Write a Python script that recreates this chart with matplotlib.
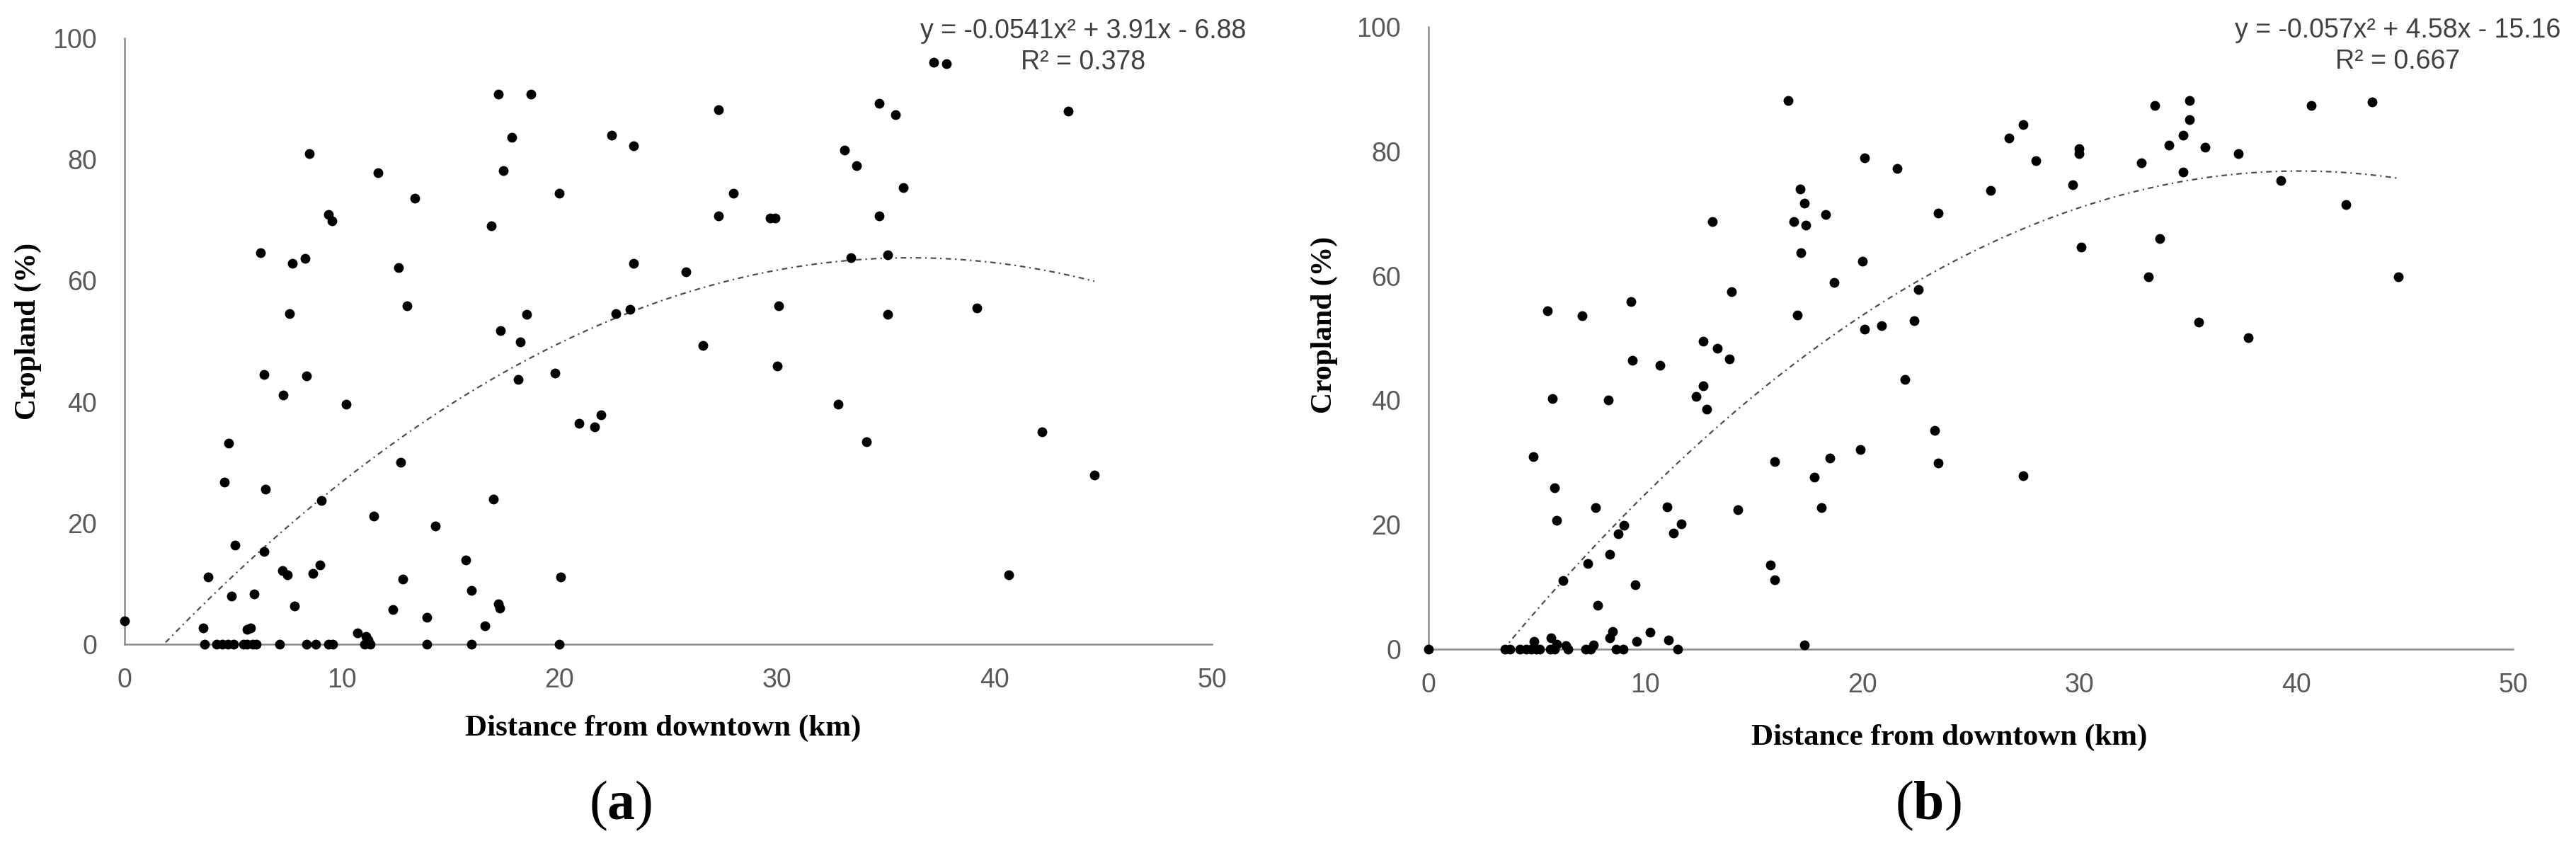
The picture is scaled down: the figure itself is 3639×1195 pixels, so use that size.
import numpy as np
import matplotlib
matplotlib.use("Agg")
import matplotlib.pyplot as plt

# Data
dist_a = [0, 3.6, 3.67, 3.83, 4.23, 4.48, 4.6, 4.74, 4.79, 4.93,
          5.01, 5.08, 5.47, 5.64, 5.64, 5.8, 5.89, 5.95, 6.05, 6.24,
          6.4, 6.4, 6.49, 7.13, 7.27, 7.3, 7.5, 7.59, 7.73, 7.81,
          8.29, 8.35, 8.37, 8.5, 8.66, 8.79, 9.0, 9.06, 9.37, 9.37,
          9.53, 9.57, 10.2, 10.7, 11.02, 11.1, 11.2, 11.31, 11.46, 11.65,
          12.33, 12.6, 12.7, 12.8, 13.0, 13.35, 13.9, 13.9, 14.3, 15.7,
          15.94, 15.94, 16.56, 16.87, 16.95, 17.18, 17.2, 17.24, 17.3, 17.4,
          17.8, 18.1, 18.2, 18.5, 18.67, 19.8, 19.98, 20.0, 20.06, 20.9,
          21.6, 21.9, 22.4, 22.6, 23.25, 23.4, 23.4, 25.8, 26.6, 27.3,
          27.3, 28.0, 29.7, 29.9, 30.0, 30.08, 32.8, 33.1, 33.4, 33.65,
          34.1, 34.7, 34.7, 35.1, 35.1, 35.45, 35.8, 37.2, 37.8, 39.2,
          40.65, 42.2, 43.4, 44.6]
crop_a = [3.8, 2.7, 0, 11.1, 0, 0, 26.7, 0, 33.2, 8.0,
          0, 16.4, 0, 0, 2.5, 2.7, 0, 8.3, 0, 64.6,
          44.5, 15.3, 25.6, 0, 12.2, 41.1, 11.4, 54.6, 62.8, 6.3,
          63.7, 44.3, 0, 80.9, 11.7, 0, 13.1, 23.7, 70.9, 0,
          69.9, 0, 39.6, 1.9, 0, 1.3, 0.7, 0, 21.1, 77.8,
          5.7, 62.2, 30.0, 10.8, 55.8, 73.6, 4.4, 0, 19.5, 13.9,
          8.9, 0, 3.0, 69.1, 23.9, 90.8, 6.7, 5.9, 51.8, 78.1,
          83.7, 43.7, 49.9, 54.4, 90.8, 44.8, 0, 74.4, 11.1, 36.5,
          35.9, 37.9, 84.0, 54.6, 55.2, 82.3, 62.8, 61.4, 49.3, 88.2,
          70.7, 74.4, 70.3, 70.3, 45.9, 55.8, 39.6, 81.5, 63.8, 79.0,
          33.4, 89.3, 70.7, 64.3, 54.4, 87.4, 75.3, 96.0, 95.8, 55.5,
          11.4, 35.1, 88.0, 27.9]

dist_b = [0, 3.52, 3.75, 4.22, 4.5, 4.74, 4.82, 4.87, 4.97, 5.12,
          5.47, 5.62, 5.64, 5.72, 5.8, 5.81, 5.9, 5.92, 6.2, 6.34,
          6.43, 7.07, 7.25, 7.33, 7.46, 7.6, 7.7, 7.8, 8.28, 8.34,
          8.36, 8.47, 8.66, 8.75, 8.96, 9.02, 9.32, 9.39, 9.54, 9.58,
          10.2, 10.67, 11.0, 11.08, 11.3, 11.49, 11.64, 12.35, 12.67, 12.67,
          12.84, 13.1, 13.33, 13.87, 13.96, 14.26, 15.75, 15.97, 15.97, 16.59,
          16.85, 17.0, 17.15, 17.17, 17.34, 17.34, 17.4, 17.8, 18.1, 18.3,
          18.5, 18.7, 19.9, 20.0, 20.1, 20.1, 20.9, 21.6, 21.97, 22.4,
          22.6, 23.34, 23.5, 23.5, 25.9, 26.76, 27.4, 27.42, 28.0, 29.7,
          29.98, 29.98, 30.1, 32.85, 33.2, 33.5, 33.7, 34.14, 34.8, 34.8,
          35.1, 35.1, 35.5, 35.8, 37.34, 37.8, 39.3, 40.7, 42.3, 43.5,
          44.7]
crop_b = [0, 0, 0, 0, 0, 0, 31.0, 1.2, 0, 0,
          54.4, 0, 1.8, 40.3, 25.9, 0, 0.8, 20.7, 11.0, 0.6,
          0, 53.6, 0, 13.8, 0, 0.7, 22.7, 7.1, 40.1, 1.8,
          15.2, 2.8, 0, 18.5, 0, 19.9, 55.9, 46.4, 10.4, 1.3,
          2.7, 45.6, 22.9, 1.5, 18.7, 0, 20.1, 40.6, 42.3, 49.5,
          38.6, 68.7, 48.3, 46.7, 57.5, 22.4, 13.5, 11.2, 30.1, 88.2,
          68.7, 53.7, 74.0, 63.7, 71.7, 0.7, 68.2, 27.6, 22.7, 69.8,
          30.7, 58.9, 32.1, 62.3, 79.0, 51.4, 52.0, 77.3, 43.3, 52.8,
          57.8, 35.2, 70.1, 29.9, 73.7, 82.1, 84.3, 27.9, 78.5, 74.6,
          80.4, 79.6, 64.6, 78.2, 59.8, 87.4, 66.0, 81.0, 82.6, 76.7,
          88.2, 85.1, 52.6, 80.7, 79.6, 50.1, 75.3, 87.4, 71.5, 87.9,
          59.8]

# polynomial trendline coefficients (a, b, c) and R squared as printed
coef_a = (-0.0541, 3.91, -6.88)
coef_b = (-0.057, 4.58, -15.16)
eq_a = "y = -0.0541x² + 3.91x - 6.88\nR² = 0.378"
eq_b = "y = -0.057x² + 4.58x - 15.16\nR² = 0.667"

x_ticks = [0, 10, 20, 30, 40, 50]
y_ticks = [0, 20, 40, 60, 80, 100]

plt.rcParams['font.family'] = ['Liberation Sans', 'DejaVu Sans']
plt.rcParams['mathtext.fontset'] = 'custom'
plt.rcParams['mathtext.rm'] = 'Liberation Serif'
plt.rcParams['mathtext.bf'] = 'Liberation Serif:bold'

W, H = 3639, 1195
fig = plt.figure(figsize=(W / 100, H / 100), dpi=100)


def px_rect(left, right, top, bottom):
    # convert pixel box to figure fraction
    return [left / W, 1 - bottom / H, (right - left) / W, (bottom - top) / H]


def draw_panel(ax, x, y, coef, xlab_pos, ylab_pos):
    ax.scatter(x, y, s=100, color="black", linewidths=0, clip_on=False, zorder=3)

    xs = np.linspace(0, max(x), 300)
    ys = coef[0] * xs ** 2 + coef[1] * xs + coef[2]
    ax.plot(xs, ys, color="#4d4d4d", lw=1.6, dashes=(3.5, 2.5, 1, 2.5), zorder=2)

    ax.set_xlim(0, 50)
    ax.set_ylim(0, 100)
    ax.set_xticks(x_ticks)
    ax.set_yticks(y_ticks)
    ax.tick_params(length=0, labelsize=27, labelcolor="#595959")
    ax.tick_params(axis="y", pad=28)
    ax.tick_params(axis="x", pad=24)
    for s in ["top", "right"]:
        ax.spines[s].set_visible(False)
    for s in ["left", "bottom"]:
        ax.spines[s].set_color("#8c8c8c")
        ax.spines[s].set_linewidth(1.8)

    ax.set_xlabel("Distance from downtown (km)", family="Liberation Serif",
                  fontweight="bold", fontsize=31, va="center")
    ax.xaxis.set_label_coords(*xlab_pos)
    ax.set_ylabel("Cropland (%)", family="Liberation Serif",
                  fontweight="bold", fontsize=30, va="center")
    ax.yaxis.set_label_coords(*ylab_pos)


ax1 = fig.add_axes(px_rect(176, 1712, 54, 910))
ax2 = fig.add_axes(px_rect(2018, 3550, 38, 917))

draw_panel(ax1, dist_a, crop_a, coef_a, (0.495, -0.139), (-0.089, 0.516))
draw_panel(ax2, dist_b, crop_b, coef_b, (0.480, -0.142), (-0.096, 0.521))

# trendline equations
fig.text(1530 / W, 1 - 66 / H, eq_a, ha="center", va="center", fontsize=27,
         color="#404040", linespacing=1.3)
fig.text(3387 / W, 1 - 65 / H, eq_b, ha="center", va="center", fontsize=27,
         color="#404040", linespacing=1.3)

# panel letters
fig.text(877 / W, 1 - 1138 / H, r"($\mathbf{a}$)", ha="center", va="center",
         fontsize=56, family="Liberation Serif")
fig.text(2724 / W, 1 - 1138 / H, r"($\mathbf{b}$)", ha="center", va="center",
         fontsize=56, family="Liberation Serif")

fig.savefig("out.png", dpi=100, facecolor="white")
